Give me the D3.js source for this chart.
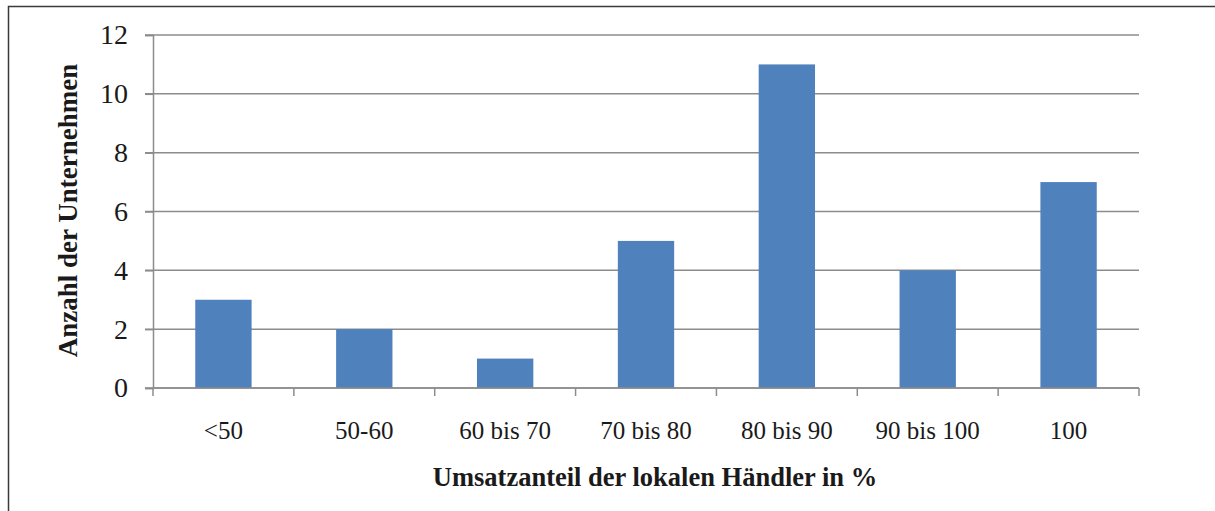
<!DOCTYPE html>
<html>
<head>
<meta charset="utf-8">
<script src="https://cdn.jsdelivr.net/npm/d3@7"></script>
<style>
  body { margin: 0; background: #fff; }
  text { font-family: "Liberation Serif", "Times New Roman", serif; fill: #1a1a1a; }
</style>
</head>
<body>
<div id="chart"></div>
<script>
// data
const categories = ["<50", "50-60", "60 bis 70", "70 bis 80", "80 bis 90", "90 bis 100", "100"];
const counts = [3, 2, 1, 5, 11, 4, 7];
const yTicks = [0, 2, 4, 6, 8, 10, 12];

const W = 1215, H = 511;
const margin = {top: 35, right: 76, bottom: 123, left: 153},
    width = W - margin.left - margin.right,
    height = H - margin.top - margin.bottom;

const root = d3.select("#chart")
  .append("svg")
  .attr("width", W)
  .attr("height", H);

// outer frame (only top and left visible in the crop)
root.append("path")
  .attr("d", `M8.5,${H} V6.5 H${W}`)
  .attr("fill", "none")
  .attr("stroke", "#3a3a3a")
  .attr("stroke-width", 1.5);

const svg = root.append("g")
  .attr("transform", `translate(${margin.left}, ${margin.top})`);

const x = d3.scaleBand()
  .domain(categories)
  .range([0, width])
  .paddingInner(0.6)
  .paddingOuter(0.3);

const y = d3.scaleLinear()
  .domain([0, 12])
  .range([height, 0]);

// gridlines
svg.append("g")
  .selectAll("line")
  .data(yTicks)
  .join("line")
  .attr("x1", -8)
  .attr("x2", width)
  .attr("y1", d => y(d))
  .attr("y2", d => y(d))
  .attr("stroke", "#8c8c8c")
  .attr("stroke-width", 1.5);

// bars
svg.selectAll("rect.bar")
  .data(counts)
  .join("rect")
  .attr("class", "bar")
  .attr("x", (d, i) => x(categories[i]))
  .attr("y", d => y(d))
  .attr("width", x.bandwidth())
  .attr("height", d => height - y(d))
  .attr("fill", "#4F81BD");

// Y axis
const yAxis = svg.append("g")
  .call(d3.axisLeft(y).tickValues(yTicks).tickSize(8).tickPadding(17).tickFormat(d3.format("d")));
yAxis.attr("font-family", null).attr("font-size", null);
yAxis.select(".domain").attr("stroke", "#8c8c8c").attr("stroke-width", 1.5);
yAxis.selectAll(".tick line").attr("stroke", "#8c8c8c").attr("stroke-width", 1.5);
yAxis.selectAll(".tick text").style("font-size", "28px").attr("fill", "#1a1a1a");

// X axis: ticks at category boundaries
const step = width / categories.length;
const xAxis = svg.append("g").attr("transform", `translate(0, ${height})`);
xAxis.append("line")
  .attr("x1", 0).attr("x2", width)
  .attr("stroke", "#8c8c8c").attr("stroke-width", 1.5);
xAxis.selectAll("line.tk")
  .data(d3.range(categories.length + 1))
  .join("line")
  .attr("class", "tk")
  .attr("x1", i => i * step).attr("x2", i => i * step)
  .attr("y1", 0).attr("y2", 8)
  .attr("stroke", "#8c8c8c").attr("stroke-width", 1.5);
xAxis.selectAll("text")
  .data(categories)
  .join("text")
  .attr("x", d => x(d) + x.bandwidth() / 2)
  .attr("y", 51)
  .attr("text-anchor", "middle")
  .style("font-size", "25px")
  .text(d => d);

// axis titles
svg.append("text")
  .attr("transform", `translate(-76, ${height / 2 - 1}) rotate(-90)`)
  .attr("text-anchor", "middle")
  .style("font-size", "27px")
  .style("font-weight", "bold")
  .text("Anzahl der Unternehmen");

svg.append("text")
  .attr("x", width / 2 + 9)
  .attr("y", height + 98)
  .attr("text-anchor", "middle")
  .style("font-size", "26.5px")
  .style("font-weight", "bold")
  .text("Umsatzanteil der lokalen Händler in %");
</script>
</body>
</html>
